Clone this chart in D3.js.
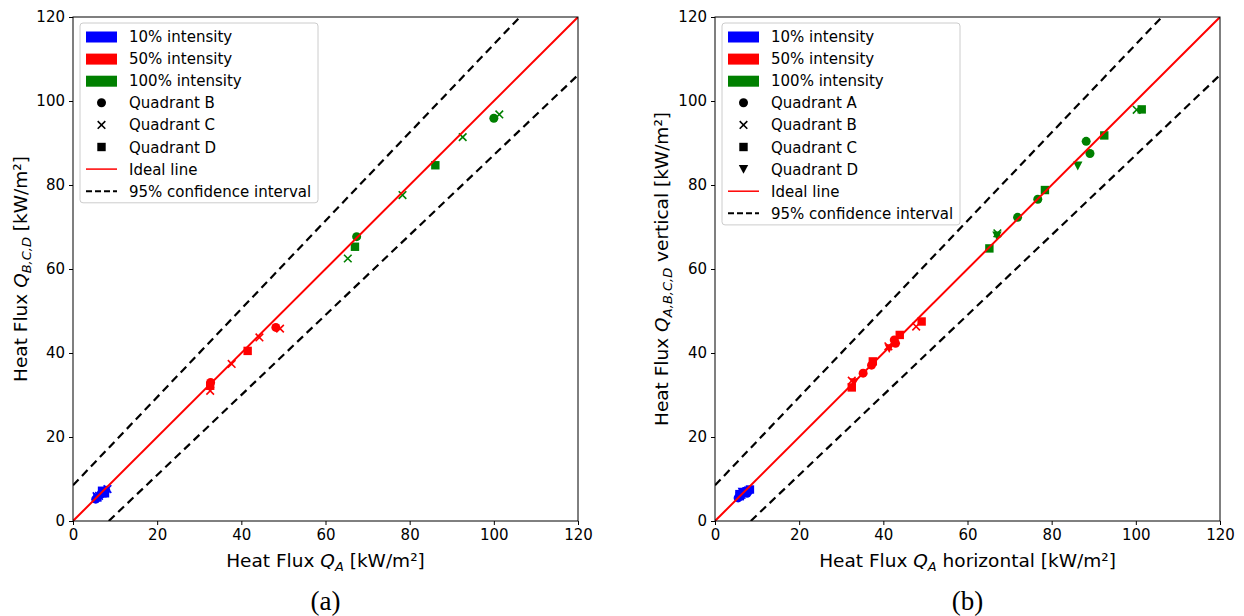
<!DOCTYPE html>
<html>
<head>
<meta charset="utf-8">
<script src="https://cdn.jsdelivr.net/npm/d3@7"></script>
<style>
  body { margin: 0; background: #fff; }
</style>
</head>
<body>
<svg id="chart" width="1244" height="616" font-family="DejaVu Sans"></svg>
<script>
// ---- data ----
let intensities = ["10% intensity", "50% intensity", "100% intensity"];
let intensityColors = ["#0000ff", "#ff0000", "#008000"];
let axisTicks = [0, 20, 40, 60, 80, 100, 120];
let ciSlope = 1.05;     // 95% band: y = 1.05x + 8.5 and its mirror
let ciOffset = 8.5;

// panel (a): [x, y, quadrant]
let aBlue = [[5.4,5.2,"B"],[5.8,5.6,"D"],[6.2,6.0,"C"],[6.6,6.4,"B"],[7.0,6.6,"D"],
             [7.4,7.0,"C"],[7.8,7.3,"B"],[8.2,7.6,"C"],[6.9,7.2,"D"],[5.6,5.9,"C"],[7.6,6.6,"D"]];
let aRed = [[32.7,33.0,"B"],[32.6,32.2,"D"],[32.6,31.0,"C"],[37.7,37.4,"C"],[41.5,40.5,"D"],
            [44.3,43.7,"C"],[48.2,46.1,"B"],[49.2,45.8,"C"]];
let aGreen = [[65.3,62.5,"C"],[67.4,67.7,"B"],[67.0,65.3,"D"],[78.3,77.6,"C"],[86.1,84.7,"D"],
              [92.6,91.4,"C"],[100.0,95.9,"B"],[101.3,96.8,"C"]];

// panel (b)
let bBlue = [[5.5,5.5,"A"],[5.9,5.9,"C"],[6.3,6.2,"B"],[6.7,6.5,"D"],[7.1,6.8,"A"],
             [7.5,7.1,"C"],[7.9,7.3,"B"],[8.3,7.5,"C"],[6.5,6.9,"D"],[7.6,6.6,"A"],[5.8,6.4,"C"]];
let bRed = [[32.5,31.8,"C"],[32.5,33.4,"B"],[33.0,33.0,"D"],[35.2,35.2,"A"],[37.2,37.1,"A"],
            [37.5,38.0,"C"],[41.4,41.1,"D"],[41.2,41.6,"B"],[42.6,43.1,"A"],[42.9,42.3,"A"],
            [43.9,44.3,"C"],[47.8,46.3,"B"],[49.1,47.5,"C"]];
let bGreen = [[65.2,64.9,"C"],[67.1,68.5,"B"],[67.0,67.9,"D"],[71.9,72.3,"A"],[76.7,76.6,"A"],
              [78.4,78.8,"C"],[86.2,84.6,"D"],[88.2,90.4,"A"],[89.1,87.5,"A"],[92.5,91.8,"C"],
              [100.2,97.9,"B"],[101.4,98.0,"C"]];

// quadrant -> marker shape per panel
let aQuadrants = ["B", "C", "D"];
let aShapes = ["circle", "cross", "square"];
let bQuadrants = ["A", "B", "C", "D"];
let bShapes = ["circle", "cross", "square", "triangle"];

let svg = d3.select("#chart");

function drawMarker(g, shape, cx, cy, color) {
    if (shape == "circle") {
        g.append("circle").attr("cx", cx).attr("cy", cy).attr("r", 4.5).attr("fill", color);
    } else if (shape == "square") {
        g.append("rect").attr("x", cx - 4.2).attr("y", cy - 4.2).attr("width", 8.4).attr("height", 8.4).attr("fill", color);
    } else if (shape == "cross") {
        let s = 3.8;
        g.append("path")
            .attr("d", `M${cx-s},${cy-s}L${cx+s},${cy+s}M${cx-s},${cy+s}L${cx+s},${cy-s}`)
            .attr("stroke", color).attr("stroke-width", 1.6).attr("fill", "none");
    } else if (shape == "triangle") {
        g.append("path")
            .attr("d", `M${cx-4.7},${cy-4.2}L${cx+4.7},${cy-4.2}L${cx},${cy+4.7}Z`)
            .attr("fill", color);
    }
}

function drawPanel(opts) {
    let left = opts.left, right = opts.left + 505, top = 17, bottom = 521;
    let x = d3.scaleLinear().domain([0, 120]).range([left, right]);
    let y = d3.scaleLinear().domain([0, 120]).range([bottom, top]);
    let g = svg.append("g");

    let clipId = "clip" + opts.tag;
    svg.append("clipPath").attr("id", clipId).append("rect")
        .attr("x", left).attr("y", top).attr("width", right - left).attr("height", bottom - top);

    let plot = g.append("g").attr("clip-path", `url(#${clipId})`);

    // points
    let groups = [opts.blue, opts.red, opts.green];
    groups.forEach(function(pts, k) {
        pts.forEach(function(p) {
            let shape = opts.shapes[opts.quads.indexOf(p[2])];
            drawMarker(plot, shape, x(p[0]), y(p[1]), intensityColors[k]);
        });
    });

    // ideal + confidence lines
    let line = d3.line().x(d => x(d[0])).y(d => y(d[1]));
    plot.append("path").datum([[0, 0], [120, 120]]).attr("d", line)
        .attr("stroke", "#ff0000").attr("stroke-width", 2).attr("fill", "none");
    let upper = [[0, ciOffset], [130, ciSlope * 130 + ciOffset]];
    let lower = [[ciOffset, 0], [130, (130 - ciOffset) / ciSlope]];
    [upper, lower].forEach(function(l) {
        plot.append("path").datum(l).attr("d", line)
            .attr("stroke", "#000").attr("stroke-width", 2.2)
            .attr("stroke-dasharray", "8,5").attr("fill", "none");
    });

    // axes
    let xAxis = d3.axisBottom(x).tickValues(axisTicks).tickSize(4).tickPadding(4);
    let yAxis = d3.axisLeft(y).tickValues(axisTicks).tickSize(4).tickPadding(4);
    let gx = g.append("g").attr("transform", `translate(0,${bottom})`).call(xAxis);
    let gy = g.append("g").attr("transform", `translate(${left},0)`).call(yAxis);
    [gx, gy].forEach(function(a) {
        a.attr("font-family", "DejaVu Sans").attr("font-size", 15);
        a.select(".domain").remove();
        a.selectAll("text").attr("fill", "#000");
        a.selectAll("line").attr("stroke", "#000").attr("stroke-width", 1);
    });
    g.append("rect").attr("x", left).attr("y", top).attr("width", right - left).attr("height", bottom - top)
        .attr("fill", "none").attr("stroke", "#000").attr("stroke-width", 1);

    // axis labels
    let xl = g.append("text").attr("x", (left + right) / 2).attr("y", 567)
        .attr("text-anchor", "middle").attr("font-size", 18.5);
    xl.append("tspan").text("Heat Flux ");
    xl.append("tspan").attr("font-style", "italic").text("Q");
    xl.append("tspan").attr("font-style", "italic").attr("font-size", 13).attr("dy", 4).text("A");
    xl.append("tspan").attr("dy", -4).text(opts.xSuffix);

    let yl = g.append("text").attr("transform", `translate(${opts.ylabelX},${(top + bottom) / 2}) rotate(-90)`)
        .attr("text-anchor", "middle").attr("font-size", 18.5);
    yl.append("tspan").text("Heat Flux ");
    yl.append("tspan").attr("font-style", "italic").text("Q");
    yl.append("tspan").attr("font-style", "italic").attr("font-size", 13).attr("dy", 4).text(opts.ySub);
    yl.append("tspan").attr("dy", -4).text(opts.ySuffix);

    // panel letter
    g.append("text").attr("x", (left + right) / 2).attr("y", 610).attr("text-anchor", "middle")
        .style("font-family", "'Liberation Serif', serif").attr("font-size", 27).text(opts.letter);

    // legend
    let rows = intensities.length + opts.quads.length + 2;
    let lg = g.append("g").attr("transform", `translate(${left + 7},23)`).attr("font-size", 15);
    lg.append("rect").attr("width", 238).attr("height", rows * 22.1 + 3).attr("rx", 3)
        .attr("fill", "#fff").attr("fill-opacity", 0.8).attr("stroke", "#cccccc");
    let rowY = i => 13.5 + i * 22.1;
    intensities.forEach(function(name, i) {
        lg.append("rect").attr("x", 6).attr("y", rowY(i) - 5).attr("width", 31).attr("height", 11)
            .attr("fill", intensityColors[i]);
        lg.append("text").attr("x", 49).attr("y", rowY(i) + 5.5).text(name);
    });
    opts.quads.forEach(function(q, j) {
        let i = intensities.length + j;
        drawMarker(lg, opts.shapes[j], 21.5, rowY(i), "#000");
        lg.append("text").attr("x", 49).attr("y", rowY(i) + 5.5).text("Quadrant " + q);
    });
    let iIdeal = intensities.length + opts.quads.length;
    lg.append("line").attr("x1", 6).attr("x2", 37).attr("y1", rowY(iIdeal)).attr("y2", rowY(iIdeal))
        .attr("stroke", "#ff0000").attr("stroke-width", 1.5);
    lg.append("text").attr("x", 49).attr("y", rowY(iIdeal) + 5.5).text("Ideal line");
    lg.append("line").attr("x1", 6).attr("x2", 37).attr("y1", rowY(iIdeal + 1)).attr("y2", rowY(iIdeal + 1))
        .attr("stroke", "#000").attr("stroke-width", 2).attr("stroke-dasharray", "6,3");
    lg.append("text").attr("x", 49).attr("y", rowY(iIdeal + 1) + 5.5).text("95% confidence interval");
}

drawPanel({tag: "a", left: 73, blue: aBlue, red: aRed, green: aGreen,
           quads: aQuadrants, shapes: aShapes, letter: "(a)", ylabelX: 27,
           ySub: "B,C,D", ySuffix: " [kW/m²]", xSuffix: " [kW/m²]"});
drawPanel({tag: "b", left: 715, blue: bBlue, red: bRed, green: bGreen,
           quads: bQuadrants, shapes: bShapes, letter: "(b)", ylabelX: 668,
           ySub: "A,B,C,D", ySuffix: " vertical [kW/m²]", xSuffix: " horizontal [kW/m²]"});
</script>
</body>
</html>
